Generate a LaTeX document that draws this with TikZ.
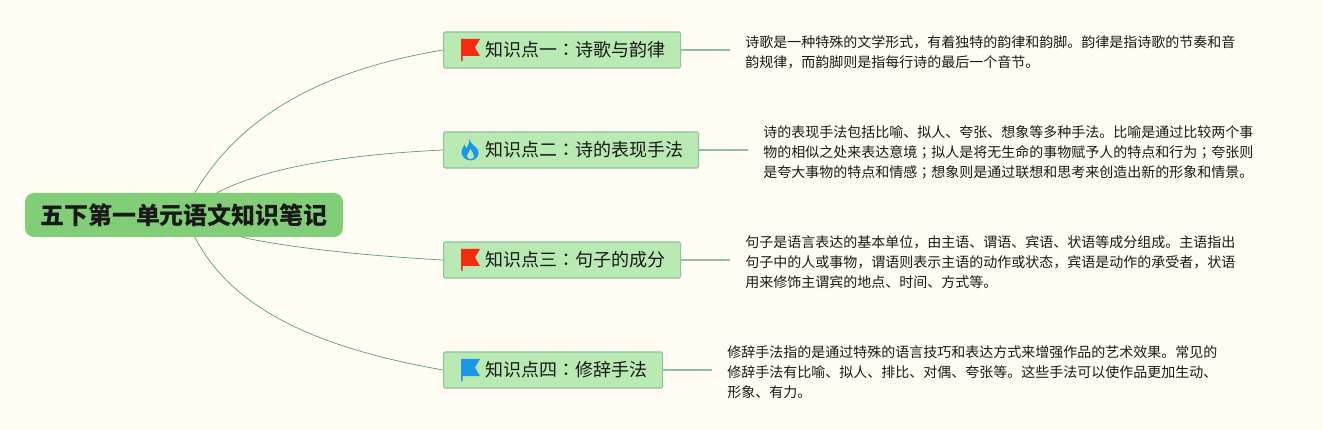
\documentclass[tikz,border=0pt]{standalone}
\usepackage{fontspec}
\usepackage{xcolor}
\setmainfont{Noto Sans CJK SC}
\newfontfamily\tcfont{Noto Sans CJK TC}
\newcommand{\midmark}[1]{{\tcfont #1}}
\usetikzlibrary{positioning}

\definecolor{paper}{HTML}{FFFCF3}
\definecolor{rootgreen}{HTML}{82CE78}
\definecolor{boxgreen}{HTML}{B9EAB3}
\definecolor{boxline}{HTML}{8FBF9F}
\definecolor{curveline}{HTML}{5E9A7E}
\definecolor{flagred}{HTML}{F52B10}
\definecolor{flagblue}{HTML}{1E96E6}

\tikzset{
  flagicon/.pic={
    \fill[#1] (18,-11) -- (37,-11) -- (32,-2.5) -- (37,6) -- (19.5,6) -- (19.5,11) -- (18,11) -- cycle;
  },
  flameicon/.pic={
    \fill[flagblue] (26.5,-11) .. controls (27,-6) and (33,-4) .. (35,0) .. controls (37,4) and (34,10) .. (28,10.5)
      .. controls (22,10.5) and (18.5,6) .. (18.5,2) .. controls (18.5,-1) and (20.5,-3) .. (21.5,-5.5)
      .. controls (22.5,-3.5) and (22.5,-2.5) .. (23.5,-1.5) .. controls (25,-4) and (26.5,-7) .. (26.5,-11) -- cycle;
    \fill[boxgreen] (27.5,-1) .. controls (28.5,2) and (31,3.5) .. (31,6) .. controls (31,8) and (29.5,9) .. (27.5,9)
      .. controls (25.5,9) and (24,8) .. (24,6) .. controls (24,3.5) and (27,2) .. (27.5,-1) -- cycle;
  }
}

\begin{document}
\begin{tikzpicture}[x=1pt,y=-1pt,node distance=50pt,
  root node/.style={rectangle,rounded corners=9pt,fill=rootgreen,minimum width=318pt,minimum height=44pt,
    inner sep=0pt,font=\fontsize{24}{28}\selectfont\bfseries,text=black!90},
  point node/.style={rectangle,rounded corners=1.5pt,draw=boxline,line width=1.2pt,fill=boxgreen,
    minimum height=36pt,inner ysep=0pt,inner xsep=15pt,font=\fontsize{18}{22}\selectfont,text=black!90,
    execute at begin node={\hspace*{27pt}}},
  note node/.style={inner sep=15pt,align=left,font=\fontsize{14}{20}\selectfont,text=black!90,xshift=-1pt,yshift=-2pt},
  branch/.style={curveline,line width=.7pt},
  stem/.style={boxline,line width=1.2pt}]

  \fill[paper] (0,0) rectangle (1323,430);
  \useasboundingbox (0,0) rectangle (1323,430);

  \node[root node] (root) at (184,215) {五下第一单元语文知识笔记};

  \node[point node,anchor=west] (p1) at (443,50) {知识点一\midmark{：}诗歌与韵律};
  \node[point node,anchor=west] (p2) at (443,150) {知识点二\midmark{：}诗的表现手法};
  \node[point node,anchor=west] (p3) at (443,260) {知识点三\midmark{：}句子的成分};
  \node[point node,anchor=west] (p4) at (443,370) {知识点四\midmark{：}修辞手法};

  \node[note node,right=of p1] (n1) {诗歌是一种特殊的文学形式，有着独特的韵律和韵脚。韵律是指诗歌的节奏和音\\韵规律，而韵脚则是指每行诗的最后一个音节。};
  \node[note node,right=of p2] (n2) {诗的表现手法包括比喻、拟人、夸张、想象等多种手法。比喻是通过比较两个事\\物的相似之处来表达意境\midmark{；}拟人是将无生命的事物赋予人的特点和行为\midmark{；}夸张则\\是夸大事物的特点和情感\midmark{；}想象则是通过联想和思考来创造出新的形象和情景。};
  \node[note node,right=of p3] (n3) {句子是语言表达的基本单位，由主语、谓语、宾语、状语等成分组成。主语指出\\句子中的人或事物，谓语则表示主语的动作或状态，宾语是动作的承受者，状语\\用来修饰主谓宾的地点、时间、方式等。};
  \node[note node,right=of p4] (n4) {修辞手法指的是通过特殊的语言技巧和表达方式来增强作品的艺术效果。常见的\\修辞手法有比喻、拟人、排比、对偶、夸张等。这些手法可以使作品更加生动、\\形象、有力。};

  \pic at (p1.west) {flagicon=flagred};
  \pic at (p2.west) {flameicon};
  \pic at (p3.west) {flagicon=flagred};
  \pic at (p4.west) {flagicon=flagblue};

  \draw[branch] (root.64) .. controls (245,108) and (335,68) .. (p1.west);
  \draw[branch] (root.34) .. controls (265,168) and (340,155) .. (p2.west);
  \draw[branch] (root.-21) .. controls (290,248) and (370,256) .. (p3.west);
  \draw[branch] (root.-64) .. controls (235,315) and (330,350) .. (p4.west);

  \draw[stem] (p1.east) -- (p1.east -| n1.west);
  \draw[stem] (p2.east) -- (p2.east -| n2.west);
  \draw[stem] (p3.east) -- (p3.east -| n3.west);
  \draw[stem] (p4.east) -- (p4.east -| n4.west);
\end{tikzpicture}
\end{document}
